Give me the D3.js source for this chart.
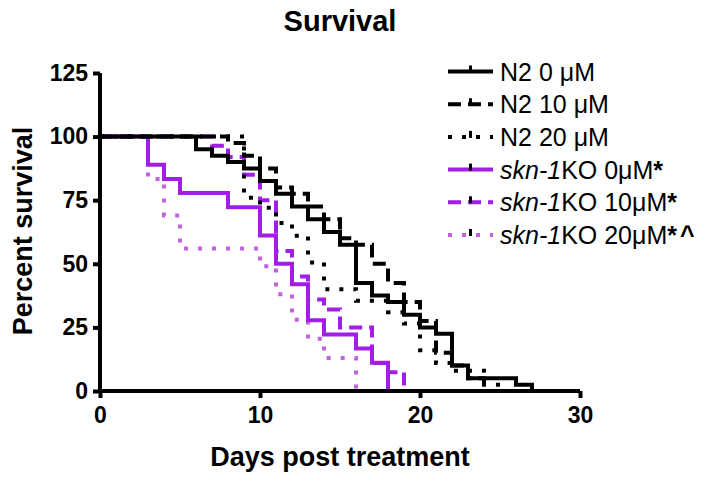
<!DOCTYPE html>
<html><head><meta charset="utf-8">
<script src="https://cdn.jsdelivr.net/npm/d3@7"></script>
<style>body{margin:0;background:#fff}svg{display:block}text{font-family:"Liberation Sans",Arial,sans-serif}</style>
</head><body><svg id="c" width="714" height="479"></svg>
<script>
// Survival data: [day, percent surviving after that day]
const n2_0 = [[0,100],[6,95],[7,92.5],[8,90],[9,87.5],[10,82.5],[11,77.5],[12,72.5],[13,67.5],[14,62.5],[15,57.5],[16,42.5],[17,37.5],[18,35],[19,30],[20,25],[21,22.5],[22,10],[23,5],[26,2.5],[27,0]];
const n2_10 = [[0,100],[8,97.5],[9,92.5],[10,87.5],[11,80],[12,77.5],[13,72.5],[14,67.5],[15,60],[16,57.5],[17,50],[18,42.5],[19,35],[20,27.5],[21,15],[22,10],[23,5],[24,0]];
const n2_20 = [[0,100],[9,76],[10,72],[11,66],[12,61],[13,50.5],[14,40],[16,35.5],[18,31],[19,26.5],[20,16],[21,11],[22,8],[24,2.5],[25,0]];
const ko_0 = [[0,100],[3,88.9],[4,83.3],[5,77.8],[8,72.2],[10,61.1],[11,50],[12,42],[13,27.8],[14,22.2],[16,16.7],[17,11.1],[18,0]];
const ko_10 = [[0,100],[7,96.4],[8,92],[9,85],[10,75],[11,55],[12,45],[13,36],[14,32],[15,25],[17,11],[18,7.4],[19,0]];
const ko_20 = [[0,100],[3,83.3],[4,69],[5,56],[10,49],[11,38],[12,28],[13,20.5],[14,13],[16,0]];

const seriesNames = ["N2 0 μM","N2 10 μM","N2 20 μM","skn-1KO 0μM*","skn-1KO 10μM*","skn-1KO 20μM*^"];
const xTicks = [0,10,20,30];
const yTicks = [0,25,50,75,100,125];

const svg = d3.select("#c");
const x = d3.scaleLinear().domain([0,30]).range([100,580]);
const y = d3.scaleLinear().domain([0,125]).range([391,73]);

const styles = [
  {data:n2_0, color:"#000", dash:null},
  {data:n2_10, color:"#000", dash:"13,7"},
  {data:n2_20, color:"#000", dash:"4,10"},
  {data:ko_0, color:"#a21de6", dash:null},
  {data:ko_10, color:"#a21de6", dash:"13,7"},
  {data:ko_20, color:"#c062e0", dash:"4,10"}
];

const line = d3.line().x(d=>x(d[0])).y(d=>y(d[1])).curve(d3.curveStepAfter);

[5,4,3,2,1,0].forEach(i=>{
  const s = styles[i];
  svg.append("path").datum(s.data).attr("d",line)
    .attr("fill","none").attr("stroke",s.color).attr("stroke-width",4)
    .attr("stroke-dasharray",s.dash).attr("stroke-linejoin","miter");
});

// axes
const gx = svg.append("g").attr("transform","translate(0,391)")
  .call(d3.axisBottom(x).tickValues(xTicks).tickSize(7).tickPadding(9));
const gy = svg.append("g").attr("transform","translate(100,0)")
  .call(d3.axisLeft(y).tickValues(yTicks).tickSize(7).tickPadding(5));
[gx,gy].forEach(g=>{
  g.select(".domain").attr("stroke","#000").attr("stroke-width",4);
  g.selectAll(".tick line").attr("stroke","#000").attr("stroke-width",4);
  g.selectAll(".tick text").attr("fill","#000").attr("font-size",23).attr("font-weight","bold")
   .style("font-family","'Liberation Sans',Arial,sans-serif");
});
gx.select(".domain").attr("d","M100,0H580");
gy.select(".domain").attr("d","M0,73V391");

// titles
svg.append("text").attr("x",340).attr("y",31).attr("text-anchor","middle")
  .attr("font-size",29).attr("font-weight","bold").text("Survival");
svg.append("text").attr("x",340).attr("y",466).attr("text-anchor","middle")
  .attr("font-size",27).attr("font-weight","bold").text("Days post treatment");
svg.append("text").attr("transform","translate(32,231) rotate(-90)").attr("text-anchor","middle")
  .attr("font-size",27).attr("font-weight","bold").text("Percent survival");

// legend
const ly0 = 71.5, ldy = 32.7;
styles.forEach((s,i)=>{
  const yy = ly0 + i*ldy;
  svg.append("line").attr("x1",448).attr("x2",493).attr("y1",yy).attr("y2",yy)
    .attr("stroke",s.color).attr("stroke-width",4).attr("stroke-dasharray",s.dash);
  svg.append("rect").attr("x",469).attr("y",yy-6).attr("width",3).attr("height",7).attr("fill","#000");
  const t = svg.append("text").attr("x",500).attr("y",yy+9).attr("font-size",25);
  const nm = seriesNames[i];
  if (nm.startsWith("skn-1")) {
    t.append("tspan").attr("font-style","italic").text("skn-1");
    let rest = nm.slice(5);
    const m = rest.match(/^([^*]*)(\*)(.*)$/);
    t.append("tspan").text(m[1]);
    t.append("tspan").attr("font-weight","bold").text(m[2]);
    if (m[3]) t.append("tspan").attr("font-weight","bold").attr("dx",3).text(m[3]);
  } else t.text(nm);
});
</script></body></html>
